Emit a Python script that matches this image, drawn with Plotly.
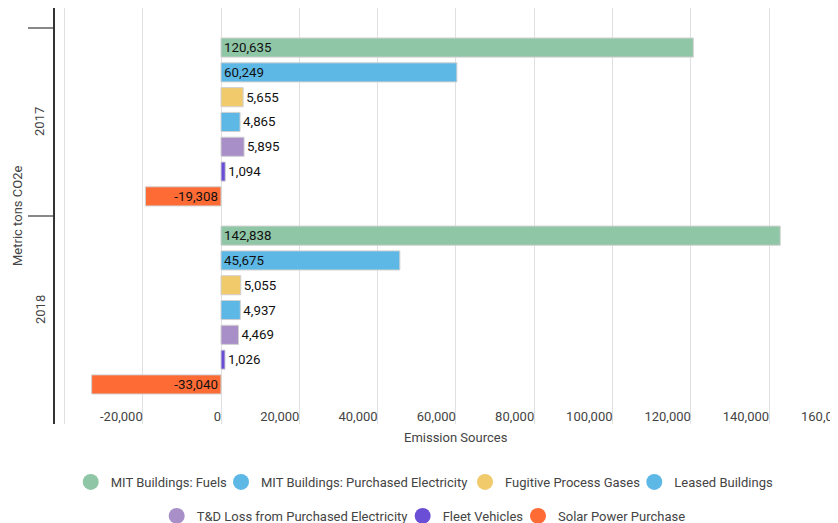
import plotly.graph_objects as go

years = ["2017", "2018"]
series_names = [
    "MIT Buildings: Fuels",
    "MIT Buildings: Purchased Electricity",
    "Fugitive Process Gases",
    "Leased Buildings",
    "T&D Loss from Purchased Electricity",
    "Fleet Vehicles",
    "Solar Power Purchase",
]
fuels = [120635, 142838]
purchased_elec = [60249, 45675]
fugitive = [5655, 5055]
leased = [4865, 4937]
td_loss = [5895, 4469]
fleet = [1094, 1026]
solar = [-19308, -33040]
series_values = [fuels, purchased_elec, fugitive, leased, td_loss, fleet, solar]
colors = ["#8fc6a6", "#5db8e6", "#f0ca6b", "#5db8e6", "#a88fc8", "#6a4fd6", "#ff6b35"]

x_tickvals = [-40000, -20000, 0, 20000, 40000, 60000, 80000, 100000, 120000, 140000, 160000]
x_ticktext = ["", "-20,000", "0", "20,000", "40,000", "60,000", "80,000",
              "100,000", "120,000", "140,000", "160,000"]

FONT = "Roboto, Arial, sans-serif"
fig = go.Figure()

for name, vals, col in zip(series_names, series_values, colors):
    fig.add_trace(go.Bar(
        y=years, x=vals, orientation="h", name=name,
        marker=dict(color=col, line=dict(color="#d0d0d0", width=1)),
        text=[f"{v:,}" for v in vals],
        textposition="auto", insidetextanchor="start",
        insidetextfont=dict(color="#111", size=13.3, family=FONT),
        outsidetextfont=dict(color="#111", size=13.3, family=FONT),
        constraintext="none", cliponaxis=False,
        showlegend=False, hoverinfo="x+name",
    ))

# legend entries (one small legend per entry so spacing follows the reference)
legend_pos = [(0.0196, -0.1394), (0.2070, -0.1394), (0.5112, -0.1394), (0.7223, -0.1394),
              (0.1268, -0.221), (0.4335, -0.221), (0.5773, -0.221)]
legend_layouts = {}
for i, (name, col) in enumerate(zip(series_names, colors)):
    key = "legend" if i == 0 else f"legend{i + 1}"
    fig.add_trace(go.Scatter(
        x=[None], y=[None], mode="markers", name=name,
        marker=dict(color=col, size=16, symbol="circle"),
        legend=key, showlegend=True,
    ))
    lx, ly = legend_pos[i]
    legend_layouts[key] = dict(
        orientation="h", xanchor="left", x=lx, yanchor="middle", y=ly,
        font=dict(family=FONT, size=13, color="#444"),
        bgcolor="rgba(0,0,0,0)", borderwidth=0,
    )

fig.update_layout(
    width=850, height=523,
    margin=dict(l=47, r=1, t=0, b=107),
    paper_bgcolor="white", plot_bgcolor="white",
    font=dict(family=FONT, size=13, color="#444"),
    barmode="group", bargap=0.077, bargroupgap=0.23,
    xaxis=dict(
        range=[-42400, 162450], tickvals=x_tickvals, ticktext=x_ticktext,
        showgrid=True, gridcolor="#e0e0e0", gridwidth=1, zeroline=False,
        showline=False, ticks="", ticklabelposition="inside left",
        ticklabelstandoff=-6,
        tickfont=dict(family=FONT, size=13, color="#444"),
    ),
    yaxis=dict(
        type="category", categoryorder="array", categoryarray=years,
        range=[1.606, -0.606], showgrid=False, zeroline=False,
        showline=True, linecolor="#333", linewidth=2,
        ticks="outside", ticklen=25, tickwidth=2, tickcolor="#888",
        tickson="boundaries", showticklabels=False,
    ),
    annotations=[
        dict(text=years[0], x=0, xref="paper", y=0, yref="y", textangle=-90,
             xanchor="center", xshift=-15, showarrow=False, font=dict(size=13, color="#444")),
        dict(text=years[1], x=0, xref="paper", y=1, yref="y", textangle=-90,
             xanchor="center", xshift=-15, showarrow=False, font=dict(size=13, color="#444")),
        dict(text="Metric tons CO2e", x=0, xref="paper", y=0.5, yref="paper",
             textangle=-90, xanchor="center", xshift=-38, showarrow=False,
             font=dict(size=13, color="#444")),
        dict(text="Emission Sources", x=0.5, xref="paper", y=-0.03125, yref="paper",
             yanchor="middle", showarrow=False, font=dict(size=13, color="#444")),
    ],
    **legend_layouts,
)

fig.write_html(
    "out.html",
    post_script="document.documentElement.style.overflow='hidden';document.body.style.overflow='hidden';",
)
